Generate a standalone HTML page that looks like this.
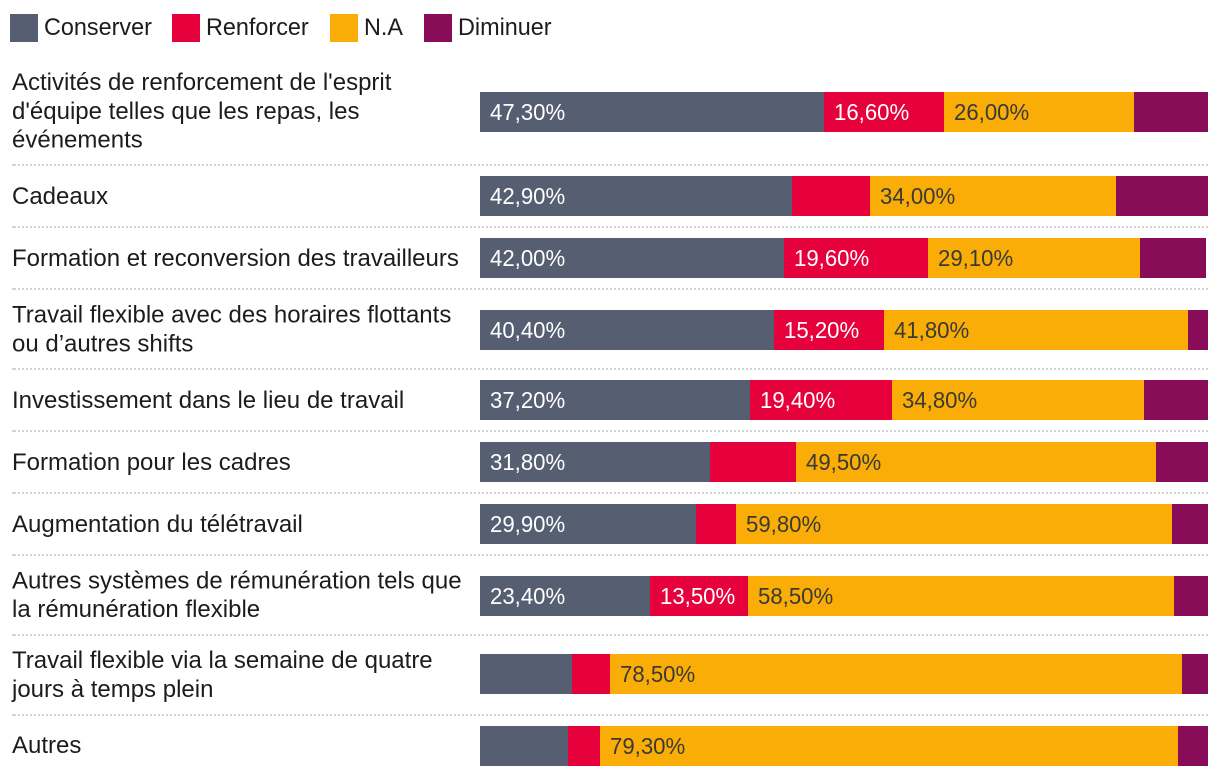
<!DOCTYPE html>
<html lang="fr">
<head>
<meta charset="utf-8">
<title>Stacked bar chart</title>
<style>
  html, body { margin: 0; padding: 0; background: #ffffff; }
  body { width: 1220px; height: 776px; overflow: hidden; }
  svg { display: block; }
  text { font-family: "Liberation Sans", "DejaVu Sans", sans-serif; font-size: 23px; }
  .cat { font-size: 24px; }
  .leg { font-size: 24px; }
</style>
</head>
<body>
<svg id="chart" xmlns="http://www.w3.org/2000/svg" width="1220" height="776" viewBox="0 0 1220 776"></svg>
<script>
const categoryLines = [
  ["Activités de renforcement de l'esprit", "d'équipe telles que les repas, les", "événements"],
  ["Cadeaux"],
  ["Formation et reconversion des travailleurs"],
  ["Travail flexible avec des horaires flottants", "ou d’autres shifts"],
  ["Investissement dans le lieu de travail"],
  ["Formation pour les cadres"],
  ["Augmentation du télétravail"],
  ["Autres systèmes de rémunération tels que", "la rémunération flexible"],
  ["Travail flexible via la semaine de quatre", "jours à temps plein"],
  ["Autres"]
];
const seriesNames = ["Conserver", "Renforcer", "N.A", "Diminuer"];
const conserver = [47.3, 42.9, 42.0, 40.4, 37.2, 31.8, 29.9, 23.4, 12.7, 12.2];
const renforcer = [16.6, 10.7, 19.6, 15.2, 19.4, 11.7, 5.4, 13.5, 5.3, 4.4];
const na = [26.0, 34.0, 29.1, 41.8, 34.8, 49.5, 59.8, 58.5, 78.5, 79.3];
const diminuer = [10.1, 12.4, 9.1, 2.6, 8.6, 7.0, 4.9, 4.6, 3.5, 4.1];

const seriesValues = [conserver, renforcer, na, diminuer];
const seriesColors = ["#565f71", "#e6003c", "#faad07", "#880c58"];
const valueColors = ["#ffffff", "#ffffff", "#3a3a35", "#ffffff"];
const legendSwatchX = [10, 172, 330, 424];
const LABEL_THRESHOLD = 13;
const BAR_X0 = 480, BAR_CSS_WIDTH = 364, BAR_H = 40;
const LINE_H = 28.85, ROW_PAD = 10, MIN_ROW = 60, FIRST_ROW_TOP = 58.9;
const CAT_SCALE = 1.0, LEGEND_SCALE = 0.975, VALUE_SCALE = 0.965, TEXT_COLOR = "#1c1c1c";

const svg = document.getElementById("chart");
const NS = "http://www.w3.org/2000/svg";

function make(tag, attrs, parent) {
  const el = document.createElementNS(NS, tag);
  for (const k in attrs) el.setAttribute(k, attrs[k]);
  parent.appendChild(el);
  return el;
}
function xScale(pct) {
  return BAR_X0 + Math.floor(pct * BAR_CSS_WIDTH / 100 + 1e-6) * 2;
}
function snap(y) {
  return Math.floor(y / 2) * 2;
}
function fmt(v) {
  return v.toFixed(2).replace(".", ",") + "%";
}
function slug(s) {
  return s.toLowerCase().replace(/[^a-z0-9]+/g, "-");
}
function scaledText(str, x, y, sx, fill, parent, cls) {
  const t = make("text", { transform: "translate(" + x + " " + y + ") scale(" + sx + " 1)", fill: fill }, parent);
  if (cls) t.setAttribute("class", cls);
  t.textContent = str;
  return t;
}

/* legend */
const legend = make("g", {}, svg);


seriesNames.forEach(function (name, i) {
  const entry = make("g", {}, legend);
  
  
  const sw = make("rect", { x: legendSwatchX[i], y: 14, width: 28, height: 28, fill: seriesColors[i] }, entry);
  
  
  const lb = scaledText(name, legendSwatchX[i] + 34, 35, LEGEND_SCALE, TEXT_COLOR, entry, "leg");
  
  
});

/* rows */
let rowTop = FIRST_ROW_TOP;
categoryLines.forEach(function (lines, r) {
  const textH = lines.length * LINE_H;
  const rowH = Math.max(MIN_ROW, textH + ROW_PAD * 2);
  const rowCenter = rowTop + rowH / 2;

  const row = make("g", {}, svg);
  
  

  const label = make("g", {}, row);
  
  
  lines.forEach(function (line, l) {
    const by = rowCenter - textH / 2 + 21.1 + l * LINE_H;
    scaledText(line, 12, by, CAT_SCALE, TEXT_COLOR, label, "cat");
  });

  const barY = snap(rowCenter - BAR_H / 2);
  let cum = 0;
  seriesValues.forEach(function (vals, s) {
    const v = vals[r];
    const x1 = xScale(cum);
    const x2 = xScale(cum + v);
    cum += v;
    const seg = make("rect", { x: x1, y: barY, width: x2 - x1, height: BAR_H, fill: seriesColors[s] }, row);
    
    
    if (v >= LABEL_THRESHOLD && s < 3) {
      const vt = scaledText(fmt(v), x1 + 10, barY + 28, VALUE_SCALE, valueColors[s], row);
      
      
    }
  });

  rowTop += rowH;
  if (r < categoryLines.length - 1) {
    const sepY = snap(rowTop) + 1;
    const sep = make("path", {
      d: "M12 " + sepY + "H14M14 " + sepY + "H1208",
      fill: "none", stroke: "#d2d2d2", "stroke-width": 2, "stroke-dasharray": "2 2"
    }, svg);
    
    
    rowTop += 2;
  }
});
</script>
</body>
</html>
